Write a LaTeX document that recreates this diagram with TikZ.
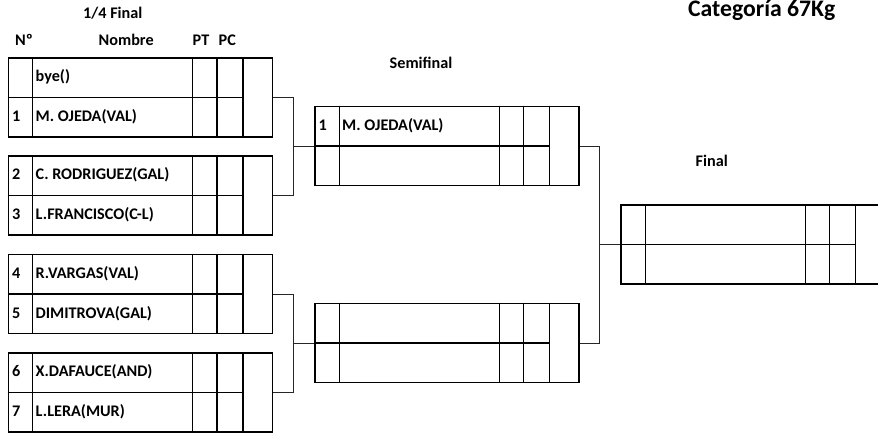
\documentclass[tikz,border=0pt]{standalone}
\usepackage{fontspec}
\setmainfont{Carlito}
\usetikzlibrary{calc}
\tikzset{
  mbox/.style={draw=black, line width=1.7pt, rectangle, minimum width=264pt, minimum height=79pt, inner sep=0pt, anchor=north west},
  innerline/.style={draw=black, line width=1.3pt},
  conn/.style={draw=black!85, line width=0.8pt},
  lbl/.style={inner sep=0pt, anchor=base west, font=\fontsize{16.2}{19}\selectfont\bfseries},
  title/.style={inner sep=0pt, anchor=base west, font=\fontsize{23.7}{28}\selectfont\bfseries}
}
\newcommand\matchbox[3]{%
  \node[mbox] (#1) at (#2,#3) {};
  \draw[innerline] ([xshift=25.2pt]#1.north west) -- ([xshift=25.2pt]#1.south west);
  \draw[innerline] ([xshift=185.2pt]#1.north west) -- ([xshift=185.2pt]#1.south west);
  \draw[innerline] ([xshift=209.5pt]#1.north west) -- ([xshift=209.5pt]#1.south west);
  \draw[innerline] ([xshift=235.5pt]#1.north west) -- ([xshift=235.5pt]#1.south west);
  \draw[innerline] (#1.west) -- ([xshift=235.5pt]#1.west);
}
\newcommand\entries[5]{%
  \node[lbl] (#1n1) at ([xshift=4.5pt,yshift=-24.5pt]#1.north west) {#2};
  \node[lbl] (#1t1) at ([xshift=28pt,yshift=-24.5pt]#1.north west) {#3};
  \node[lbl] (#1n2) at ([xshift=4.5pt,yshift=-64.5pt]#1.north west) {#4};
  \node[lbl] (#1t2) at ([xshift=28pt,yshift=-64.5pt]#1.north west) {#5};
}
\begin{document}
\begin{tikzpicture}[x=1pt,y=-1pt]
\useasboundingbox (0,0) rectangle (878,432);
% headers
\node[lbl] (hq) at (83,18.3) {1/4 Final};
\node[lbl] (hno) at (15,45) {Nº};
\node[lbl] (hnom) at (98.5,45) {Nombre};
\node[lbl] (hpt) at (192.5,45) {PT};
\node[lbl] (hpc) at (218.5,45) {PC};
\node[lbl] (hs) at (389.5,68.3) {Semifinal};
\node[lbl] (hf) at (695.5,166.7) {Final};
\node[title] (cat) at (688,16.5) {Categoría 67Kg};
% quarter finals
\matchbox{q1}{7.5}{57}
\matchbox{q2}{7.5}{155.3}
\matchbox{q3}{7.5}{253.7}
\matchbox{q4}{7.5}{352}
\entries{q1}{}{bye()}{1}{M. OJEDA(VAL)}
\entries{q2}{2}{C. RODRIGUEZ(GAL)}{3}{L.FRANCISCO(C-L)}
\entries{q3}{4}{R.VARGAS(VAL)}{5}{DIMITROVA(GAL)}
\entries{q4}{6}{X.DAFAUCE(AND)}{7}{L.LERA(MUR)}
% semifinals
\matchbox{s1}{314}{105.7}
\matchbox{s2}{314}{302.7}
\node[lbl] (s1n1) at ([xshift=4.5pt,yshift=-24.5pt]s1.north west) {1};
\node[lbl] (s1t1) at ([xshift=28pt,yshift=-24.5pt]s1.north west) {M. OJEDA(VAL)};
% final
\matchbox{f}{620.3}{204.3}
% connectors
\coordinate (c1) at (293,0);
\coordinate (c2) at (599.3,0);
\draw[conn] (q1.east) -| (c1 |- q2.east) -- (q2.east);
\draw[conn] (s1.west) -- (s1.west -| c1);
\draw[conn] (q3.east) -| (c1 |- q4.east) -- (q4.east);
\draw[conn] (s2.west) -- (s2.west -| c1);
\draw[conn] (s1.east) -| (c2 |- s2.east) -- (s2.east);
\draw[conn] (f.west) -- (f.west -| c2);
\end{tikzpicture}
\end{document}
